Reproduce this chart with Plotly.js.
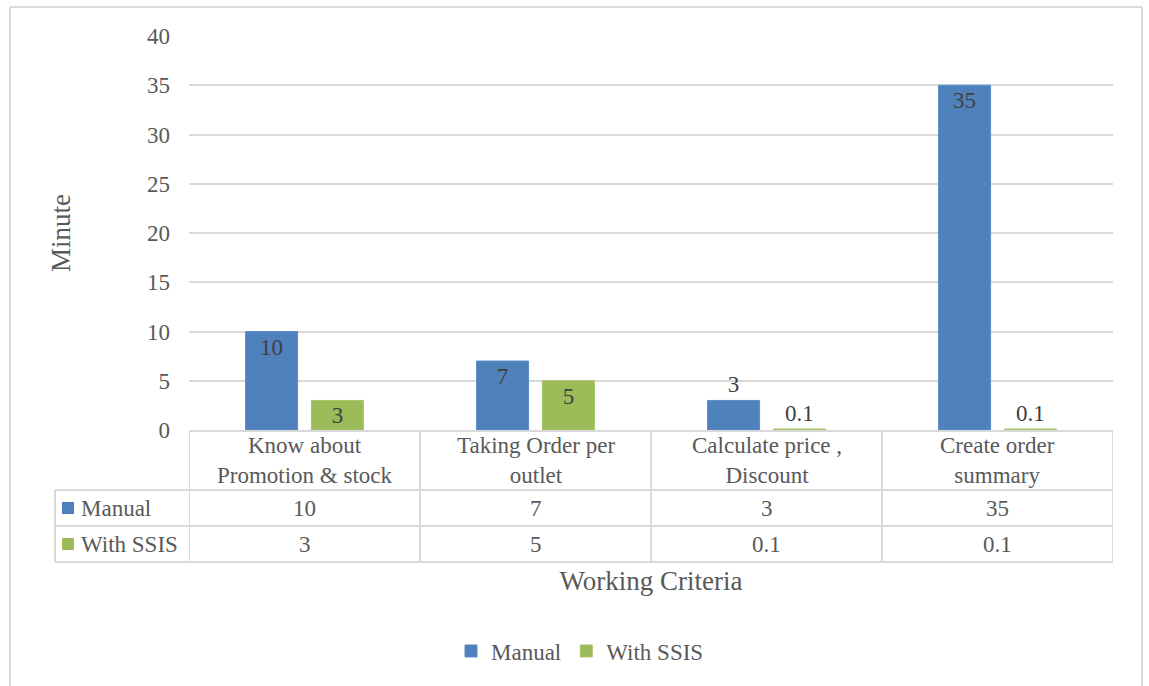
<!DOCTYPE html>
<html>
<head>
<meta charset="utf-8">
<script src="https://cdn.plot.ly/plotly-3.0.1.min.js"></script>
<style>html,body{margin:0;padding:0;background:#fff;}</style>
</head>
<body>
<div id="chart" style="width:1149px;height:686px;"></div>
<script>
// ---- data ----
const categories = ['Know about Promotion & stock', 'Taking Order per outlet', 'Calculate price , Discount', 'Create order summary'];
const tickLabels = ['Know about<br>Promotion & stock', 'Taking Order per<br>outlet', 'Calculate price ,<br>Discount', 'Create order<br>summary'];
const seriesNames = ['Manual', 'With SSIS'];
const manualValues = [10, 7, 3, 35];
const ssisValues = [3, 5, 0.1, 0.1];
const manualLabelPos = ['inside', 'inside', 'outside', 'inside'];
const ssisLabelPos = ['inside', 'inside', 'outside', 'outside'];
const yTicks = [0, 5, 10, 15, 20, 25, 30, 35, 40];

// ---- style / layout constants ----
const FONT = 'Liberation Serif, Times New Roman, serif';
const GREY = '#595959';
const LINE = '#d9d9d9';
const colors = ['#4f81bd', '#9bbb59'];
const W = 1149, H = 686;
const L = 189, R = 1113, T = 36, B = 430;
const PW = R - L, PH = B - T;
const px = v => (v - L) / PW;   // pixel x -> paper x
const py = v => (B - v) / PH;   // pixel y -> paper y

const rowBottoms = [490, 526, 562];   // table row bottoms (header, manual, ssis)
const rowCenters = [508, 544];
const headerCenter = 460;
const tableLeft = 55;

const barFont = {family: FONT, size: 23, color: '#404040'};
const traces = [
  {
    type: 'bar', name: seriesNames[0], x: categories, y: manualValues,
    marker: {color: colors[0], line: {color: '#5b8cc6', width: 1}},
    text: manualValues.map(String), textposition: manualLabelPos,
    insidetextanchor: 'end', constraintext: 'none', textangle: 0,
    textfont: barFont, insidetextfont: barFont, outsidetextfont: barFont,
    cliponaxis: false
  },
  {
    type: 'bar', name: seriesNames[1], x: categories, y: ssisValues,
    marker: {color: colors[1], line: {color: '#a6c46a', width: 1}},
    text: ssisValues.map(String), textposition: ssisLabelPos,
    insidetextanchor: 'end', constraintext: 'none', textangle: 0,
    textfont: barFont, insidetextfont: barFont, outsidetextfont: barFont,
    cliponaxis: false
  }
];

const shapes = [];
const annotations = [];
const ln = (x0, y0, x1, y1, xref) => ({
  type: 'line', xref: xref || 'paper', yref: 'paper',
  x0: x0, x1: x1, y0: y0, y1: y1, line: {color: LINE, width: 2}, layer: 'above'
});

// outer chart frame (left, top, right)
shapes.push(ln(px(10), py(7), px(1142), py(7)));
shapes.push(ln(px(10), py(7), px(10), py(H + 5)));
shapes.push(ln(px(1142), py(7), px(1142), py(H + 5)));

// table horizontal lines
rowBottoms.forEach(y => shapes.push(ln(px(tableLeft), py(y), px(R), py(y))));
// table left edge
shapes.push(ln(px(tableLeft), py(rowBottoms[0]), px(tableLeft), py(rowBottoms[2])));
// vertical category boundaries
for (let i = 0; i <= categories.length; i++) {
  shapes.push(ln(i - 0.5, py(B), i - 0.5, py(rowBottoms[2]), 'x'));
}

// header cells (category names)
categories.forEach((c, i) => {
  annotations.push({xref: 'x', yref: 'paper', x: c, y: py(headerCenter),
    xanchor: 'center', yanchor: 'middle', align: 'center', text: tickLabels[i],
    showarrow: false, font: {family: FONT, size: 23, color: GREY}});
});

// row legend keys + labels, cell values
const allValues = [manualValues, ssisValues];
seriesNames.forEach((name, s) => {
  const cy = rowCenters[s];
  shapes.push({type: 'rect', xref: 'paper', yref: 'paper',
    x0: px(62), x1: px(74), y0: py(cy - 6), y1: py(cy + 6),
    fillcolor: colors[s], line: {width: 0}, layer: 'above'});
  annotations.push({xref: 'paper', yref: 'paper', x: px(79), y: py(cy),
    xanchor: 'left', yanchor: 'middle', text: name, showarrow: false,
    font: {family: FONT, size: 23, color: GREY}});
  categories.forEach((c, i) => {
    annotations.push({xref: 'x', yref: 'paper', x: c, y: py(cy),
      xanchor: 'center', yanchor: 'middle', text: String(allValues[s][i]),
      showarrow: false, font: {family: FONT, size: 23, color: GREY}});
  });
});

const layout = {
  width: W, height: H,
  margin: {l: L, r: W - R, t: T, b: H - B, autoexpand: false},
  paper_bgcolor: '#ffffff', plot_bgcolor: '#ffffff',
  font: {family: FONT, size: 23, color: GREY},
  barmode: 'group', bargap: 0.43, bargroupgap: 0.21,
  hovermode: false,
  showlegend: true,
  legend: {orientation: 'h', x: px(580), xanchor: 'center', y: py(651), yanchor: 'middle',
    font: {family: FONT, size: 23, color: GREY}, itemwidth: 30, tracegroupgap: 0,
    bgcolor: 'rgba(0,0,0,0)'},
  xaxis: {
    type: 'category', range: [-0.5, categories.length - 0.5],
    showticklabels: false, ticks: '',
    showgrid: false, zeroline: false, showline: true, linecolor: LINE, linewidth: 2,
    automargin: false, fixedrange: true,
    title: {text: 'Working Criteria', font: {family: FONT, size: 27, color: GREY}, standoff: 140}
  },
  yaxis: {
    range: [0, 40], tickvals: yTicks, ticktext: yTicks.map(String),
    showgrid: true, gridcolor: LINE, gridwidth: 2, zeroline: false, showline: false,
    ticks: '', ticklabelstandoff: 18,
    tickfont: {family: FONT, size: 23, color: GREY},
    automargin: false, fixedrange: true,
    title: {text: 'Minute', font: {family: FONT, size: 27, color: GREY}, standoff: 68}
  },
  shapes: shapes,
  annotations: annotations
};

Plotly.newPlot('chart', traces, layout, {displayModeBar: false, staticPlot: true});
</script>
</body>
</html>
